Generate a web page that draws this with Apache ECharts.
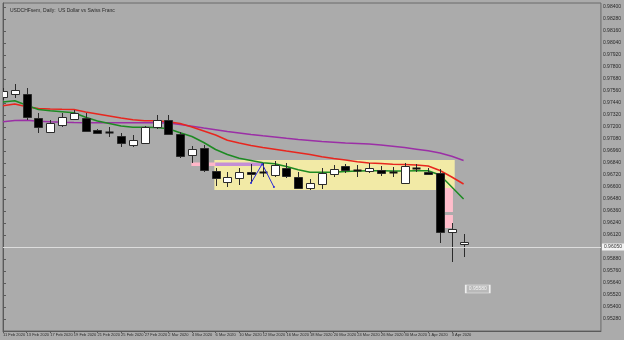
<!DOCTYPE html>
<html>
<head>
<meta charset="utf-8">
<script src="https://cdn.jsdelivr.net/npm/echarts@6/dist/echarts.min.js"></script>
<style>
html,body{margin:0;padding:0;background:#ababab;}
#c{width:624px;height:340px;}
</style>
</head>
<body>
<div id="c"></div>
<script>
const titleText = 'USDCHFsem, Daily:  US Dollar vs Swiss Franc';
const dates = ['11 Feb 2020','12 Feb 2020','13 Feb 2020','14 Feb 2020','17 Feb 2020','18 Feb 2020','19 Feb 2020','20 Feb 2020','21 Feb 2020','24 Feb 2020','25 Feb 2020','26 Feb 2020','27 Feb 2020','28 Feb 2020','2 Mar 2020','3 Mar 2020','4 Mar 2020','5 Mar 2020','6 Mar 2020','9 Mar 2020','10 Mar 2020','11 Mar 2020','12 Mar 2020','13 Mar 2020','16 Mar 2020','17 Mar 2020','18 Mar 2020','19 Mar 2020','20 Mar 2020','23 Mar 2020','24 Mar 2020','25 Mar 2020','26 Mar 2020','27 Mar 2020','30 Mar 2020','31 Mar 2020','1 Apr 2020','2 Apr 2020','3 Apr 2020','6 Apr 2020'];
const openP  = [0.9750,0.9753,0.9753,0.9729,0.9715,0.9722,0.9728,0.9729,0.9717,0.97155,0.9711,0.9702,0.9704,0.9720,0.9727,0.9713,0.9692,0.9699,0.9676,0.9665,0.9669,0.9675,0.96755,0.9672,0.9679,0.9670,0.9659,0.9663,0.9673,0.9681,0.9677,0.9676,0.9677,0.9675,0.9664,0.9678,0.9675,0.9674,0.9615,0.9603];
const highP  = [0.9759,0.9763,0.9759,0.9734,0.9727,0.9734,0.9737,0.9734,0.9718,0.9720,0.9714,0.9712,0.9721,0.9732,0.9732,0.9715,0.9701,0.9702,0.9679,0.9675,0.9679,0.9683,0.9684,0.9686,0.9684,0.9675,0.9668,0.9679,0.9682,0.9683,0.9682,0.9684,0.9681,0.9680,0.9684,0.9683,0.9679,0.9678,0.9624,0.9613];
const lowP   = [0.9747,0.9749,0.9727,0.9714,0.9714,0.9720,0.9727,0.9715,0.9713,0.9710,0.9700,0.9700,0.9703,0.9718,0.9712,0.9689,0.9684,0.9675,0.9661,0.9660,0.9662,0.9664,0.9670,0.9670,0.9669,0.9658,0.9657,0.9658,0.9670,0.9674,0.9670,0.9674,0.9671,0.9670,0.9664,0.9675,0.9672,0.9604,0.9585,0.9590];
const closeP = [0.9756,0.9757,0.9730,0.9720,0.9724,0.9730,0.9734,0.9716,0.9714,0.9715,0.9704,0.9707,0.9720,0.9727,0.9713,0.9691,0.9698,0.9677,0.9669,0.9670,0.9675,0.9673,0.96745,0.9682,0.9671,0.9659,0.9664,0.9674,0.9678,0.9677,0.9676,0.9679,0.9674,0.96745,0.9681,0.96795,0.9673,0.9615,0.9618,0.9605];
const maFast = [0.97450,0.97462,0.97417,0.97375,0.97362,0.97352,0.97342,0.97297,0.97260,0.97235,0.97210,0.97197,0.97197,0.97195,0.97182,0.97142,0.97105,0.97045,0.96975,0.96925,0.96887,0.96865,0.96843,0.96833,0.96805,0.96772,0.96747,0.96747,0.96748,0.96755,0.96760,0.96763,0.96762,0.96760,0.96760,0.96762,0.96762,0.96720,0.96600,0.96480];
const maMid  = [0.97412,0.97430,0.97402,0.97386,0.97380,0.97377,0.97375,0.97350,0.97330,0.97310,0.97290,0.97272,0.97263,0.97263,0.97252,0.97235,0.97200,0.97160,0.97120,0.97067,0.97040,0.97016,0.96995,0.96978,0.96960,0.96943,0.96925,0.96903,0.96885,0.96870,0.96853,0.96840,0.96834,0.96828,0.96824,0.96820,0.96810,0.96765,0.96700,0.96630];
const maSlow = [0.97253,0.97265,0.97268,0.97258,0.97252,0.97248,0.97245,0.97243,0.97243,0.97243,0.97243,0.97243,0.97243,0.97243,0.97240,0.97225,0.97208,0.97190,0.97173,0.97155,0.97140,0.97125,0.97112,0.97100,0.97087,0.97075,0.97065,0.97055,0.97048,0.97040,0.97035,0.97030,0.97020,0.97007,0.96994,0.96978,0.96962,0.96940,0.96907,0.96865];
const priceTicks = [0.9840,0.9828,0.9816,0.9804,0.9792,0.9780,0.9768,0.9756,0.9744,0.9732,0.9720,0.9708,0.9696,0.9684,0.9672,0.9660,0.9648,0.9636,0.9624,0.9612,0.9600,0.9588,0.9576,0.9564,0.9552,0.9540,0.9528];
const currentPrice = 0.9605;
const levelPrice = 0.9558;
const levelLabelX = 40.2;
// zones: [xFrom, xTo, priceTop, priceBottom]
const rangeBox   = [17.9, 38.25, 0.9687, 0.9657];
const pinkBarH   = [15.95, 17.97, 0.96845, 0.9681];
const lilacBarH  = [17.97, 21.9, 0.96845, 0.9681];
const pinkBlock1 = [37.4, 38.1, 0.9659, 0.9635];
const pinkBlock2 = [37.4, 38.1, 0.9632, 0.9619];
const arrowPts = [[21.0,0.9664],[21.95,0.9683],[22.94,0.9660]];

const labelIdx = dates.map((d,i)=>i).filter(i=>i%2===0);
const candleData = dates.map((d,i)=>[i, openP[i], closeP[i], lowP[i], highP[i]]);
const idx = dates.map((d,i)=>i);
const FONT = 'Liberation Sans';

function renderCandle(params, api){
  const x = api.value(0), o = api.value(1), c = api.value(2), l = api.value(3), h = api.value(4);
  const po = api.coord([x,o]), pc = api.coord([x,c]), pl = api.coord([x,l]), ph = api.coord([x,h]);
  const w = 8;
  const cx = Math.round(po[0]) + 0.5;
  let top = Math.round(Math.min(po[1],pc[1])) + 0.5, bot = Math.round(Math.max(po[1],pc[1])) + 0.5;
  const bull = c >= o;
  const children = [
    {type:'line', shape:{x1:cx,y1:ph[1],x2:cx,y2:pl[1]}, style:{stroke:'#2b2b2b', lineWidth:1}}
  ];
  if (bot - top < 1.5) {
    children.push({type:'line', shape:{x1:cx-w/2,y1:top,x2:cx+w/2,y2:top}, style:{stroke:'#111', lineWidth:2}});
  } else {
    children.push({type:'rect', shape:{x:cx-w/2, y:top, width:w, height:bot-top}, style:{fill: bull?'#ffffff':'#000000', stroke:'#2b2b2b', lineWidth:1}});
  }
  return {type:'group', children};
}

function zone(z, color){
  return [{xAxis:z[0], yAxis:z[2], itemStyle:{color}}, {xAxis:z[1], yAxis:z[3]}];
}

const chart = echarts.init(document.getElementById('c'), null, {renderer:'canvas'});
chart.setOption({
  animation:false,
  backgroundColor:'#ababab',
  textStyle:{fontFamily:FONT},
  title:{text:titleText, left:5, top:3, textStyle:{fontSize:5, fontWeight:'normal', color:'#2a2a2a', fontFamily:FONT}},
  grid:{left:3, right:20, top:3, bottom:9, show:true, borderColor:'#6a6a6a', borderWidth:1, backgroundColor:'#ababab'},
  xAxis:{
    type:'value', min:0, max:50.63,
    axisLine:{show:true, lineStyle:{color:'#5a5a5a', width:1}},
    axisTick:{show:true, length:2, lineStyle:{color:'#5a5a5a'}, customValues:labelIdx},
    axisLabel:{show:true, customValues:labelIdx, formatter:(v)=>dates[Math.round(v)], align:'left', fontSize:4, color:'#2a2a2a', margin:2, fontFamily:FONT, showMinLabel:true, hideOverlap:false},
    splitLine:{show:false}
  },
  yAxis:{
    type:'value', position:'right', min:0.9516, max:0.9844, scale:true,
    axisLine:{show:true, lineStyle:{color:'#5a5a5a', width:1}},
    axisTick:{show:true, length:3, lineStyle:{color:'#5a5a5a'}, customValues:priceTicks},
    axisLabel:{show:true, customValues:priceTicks, formatter:(v)=>v.toFixed(5), fontSize:5, color:'#2a2a2a', margin:2, fontFamily:FONT},
    splitLine:{show:false}
  },
  series:[
    {
      type:'line', data:[], z:1, silent:true,
      markArea:{silent:true, data:[
        zone(rangeBox,'#f2eaa6'),
        zone(pinkBlock1,'#ffbdcb'),
        zone(pinkBlock2,'#ffbdcb'),
        zone(pinkBarH,'#ffb6c8'),
        zone(lilacBarH,'#c48fd6')
      ]}
    },
    {
      type:'line', data:[], z:2, silent:true,
      markLine:{silent:true, symbol:'none', data:[
        {yAxis:currentPrice, lineStyle:{color:'#dadada', width:1, type:'solid'},
         label:{show:true, position:'end', formatter:currentPrice.toFixed(5), fontSize:5, color:'#333', backgroundColor:'#f2f2f2', padding:[1,2], distance:1, fontFamily:FONT}},
        {yAxis:levelPrice, lineStyle:{color:'#dcdcdc', width:1, type:'solid'}, label:{show:false}}
      ]},
      markPoint:{silent:true, data:[
        {coord:[levelLabelX, levelPrice], symbol:'rect', symbolSize:[24,8], itemStyle:{color:'#b9b9b9', borderColor:'#eeeeee', borderWidth:1},
         label:{show:true, formatter:levelPrice.toFixed(5), fontSize:5, color:'#f4f4f4', fontFamily:FONT}}
      ]}
    },
    {type:'line', data:idx.map(i=>[i,maSlow[i]]), showSymbol:false, z:3, lineStyle:{color:'#9b2fa6', width:1.5}, silent:true},
    {type:'line', data:idx.map(i=>[i,maMid[i]]), showSymbol:false, z:3, lineStyle:{color:'#e8261e', width:1.5}, silent:true},
    {type:'line', data:idx.map(i=>[i,maFast[i]]), showSymbol:false, z:3, lineStyle:{color:'#1d8a22', width:1.5}, silent:true},
    {type:'custom', renderItem:renderCandle, data:candleData, z:4, clip:true, encode:{x:0, y:[1,2,3,4]}, silent:true},
    {type:'line', data:arrowPts, showSymbol:true, symbol:'circle', symbolSize:2, z:5, lineStyle:{color:'#2a2ad6', width:1}, itemStyle:{color:'#2a2ad6'}, silent:true}
  ]
});
</script>
</body>
</html>
